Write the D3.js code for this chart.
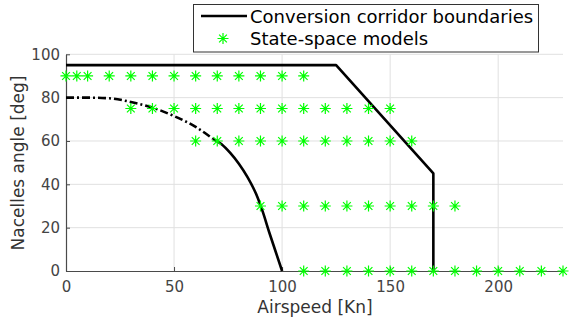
<!DOCTYPE html>
<html>
<head>
<meta charset="utf-8">
<script src="https://cdn.jsdelivr.net/npm/d3@7"></script>
<style>
  html, body { margin: 0; padding: 0; background: #fff; }
  svg { display: block; font-family: "DejaVu Sans", sans-serif; }
</style>
</head>
<body>
<svg id="chart" width="570" height="325"></svg>
<script>
// Axis ticks
const xTicks = [0, 50, 100, 150, 200];
const yTicks = [0, 20, 40, 60, 80, 100];

// Upper corridor boundary (airspeed, nacelle angle)
const upperSpeed = [0, 125, 170, 170];
const upperAngle = [95, 95, 45, 0];

// Lower corridor boundary, dash-dot part
const lowerDashSpeed = [0, 10, 20, 30, 40, 50, 60, 68];
const lowerDashAngle = [80, 80, 79.7, 78, 75.4, 71.5, 66.5, 61];

// Lower corridor boundary, solid part
const lowerSolidSpeed = [68, 72, 76, 80, 84, 88, 91, 94, 97, 100];
const lowerSolidAngle = [61, 58.5, 54.5, 49.5, 43.3, 35.5, 27.5, 18, 9, 0];

// State-space model grid: one speed list per nacelle angle
const modelAngles = [90, 75, 60, 30, 0];
const modelSpeeds = [
  [0, 5, 10, 20, 30, 40, 50, 60, 70, 80, 90, 100, 110],
  [30, 40, 50, 60, 70, 80, 90, 100, 110, 120, 130, 140, 150],
  [60, 70, 80, 90, 100, 110, 120, 130, 140, 150, 160],
  [90, 100, 110, 120, 130, 140, 150, 160, 170, 180],
  [110, 120, 130, 140, 150, 160, 170, 180, 190, 200, 210, 220, 230]
];

const legendLabels = ["Conversion corridor boundaries", "State-space models"];

const svg = d3.select("#chart");
const x = d3.scaleLinear().domain([0, 230]).range([66, 563]);
const y = d3.scaleLinear().domain([0, 100]).range([271, 54.3]);

const axisColor = "#4a4a4a";
const gridColor = "#e0e0e0";
const green = "#00ff00";

// grid
const grid = svg.append("g");
grid.selectAll("line.gx").data(xTicks.filter(d => d > 0)).join("line")
  .attr("x1", d => x(d)).attr("x2", d => x(d))
  .attr("y1", y(0)).attr("y2", y(100))
  .attr("stroke", gridColor).attr("stroke-width", 1);
grid.selectAll("line.gy").data(yTicks.filter(d => d > 0)).join("line")
  .attr("x1", x(0)).attr("x2", x(230))
  .attr("y1", d => y(d)).attr("y2", d => y(d))
  .attr("stroke", gridColor).attr("stroke-width", 1);

// axes with inward ticks
const xAxis = svg.append("g").attr("transform", `translate(0,${y(0)})`)
  .call(d3.axisBottom(x).tickValues(xTicks).tickSize(-4).tickPadding(10).tickSizeOuter(0));
const yAxis = svg.append("g").attr("transform", `translate(${x(0)},0)`)
  .call(d3.axisLeft(y).tickValues(yTicks).tickSize(-4).tickPadding(6).tickSizeOuter(0));
[xAxis, yAxis].forEach(a => {
  a.select(".domain").attr("stroke", axisColor).attr("stroke-width", 1.2);
  a.selectAll(".tick line").attr("stroke", axisColor);
  a.selectAll(".tick text").attr("fill", "#444")
    .style("font-family", "DejaVu Sans").style("font-size", "15px");
});

// corridor boundaries
const line = d3.line().x(d => x(d[0])).y(d => y(d[1]));
const lineC = d3.line().x(d => x(d[0])).y(d => y(d[1])).curve(d3.curveMonotoneX);

svg.append("path")
  .attr("d", line(d3.zip(upperSpeed, upperAngle)))
  .attr("fill", "none").attr("stroke", "#000").attr("stroke-width", 2.6)
  .attr("stroke-linejoin", "round");
svg.append("path")
  .attr("d", lineC(d3.zip(lowerDashSpeed, lowerDashAngle)))
  .attr("fill", "none").attr("stroke", "#000").attr("stroke-width", 2.6)
  .attr("stroke-dasharray", "8,3,2,3");
svg.append("path")
  .attr("d", lineC(d3.zip(lowerSolidSpeed, lowerSolidAngle)))
  .attr("fill", "none").attr("stroke", "#000").attr("stroke-width", 2.6);

// asterisk marker
function star(g, cx, cy, r) {
  const s = r * Math.SQRT1_2;
  g.append("path")
    .attr("d", `M${cx - r},${cy}H${cx + r}M${cx},${cy - r}V${cy + r}` +
               `M${cx - s},${cy - s}L${cx + s},${cy + s}M${cx - s},${cy + s}L${cx + s},${cy - s}`)
    .attr("stroke", green).attr("stroke-width", 1.2).attr("fill", "none");
}

const pts = [];
modelAngles.forEach((a, i) => modelSpeeds[i].forEach(s => pts.push([s, a])));
const markers = svg.append("g");
pts.forEach(p => star(markers, x(p[0]), y(p[1]), 5.5));

// legend
const leg = svg.append("g");
leg.append("rect").attr("x", 193.5).attr("y", 4.5).attr("width", 345).attr("height", 47.5)
  .attr("fill", "#fff").attr("stroke", "#333").attr("stroke-width", 1);
leg.append("line").attr("x1", 201).attr("x2", 247).attr("y1", 16).attr("y2", 16)
  .attr("stroke", "#000").attr("stroke-width", 2.6);
star(leg, 223, 38.5, 5.5);
leg.selectAll("text").data(legendLabels).join("text")
  .attr("x", 250).attr("y", (d, i) => 23 + i * 21.5)
  .attr("fill", "#000").style("font-size", "18px").text(d => d);

// axis labels
svg.append("text").attr("x", 315).attr("y", 313).attr("text-anchor", "middle")
  .attr("fill", "#333").style("font-size", "17px").text("Airspeed [Kn]");
svg.append("text").attr("transform", "translate(24,163) rotate(-90)")
  .attr("text-anchor", "middle").attr("fill", "#333").style("font-size", "17px")
  .text("Nacelles angle [deg]");
</script>
</body>
</html>
